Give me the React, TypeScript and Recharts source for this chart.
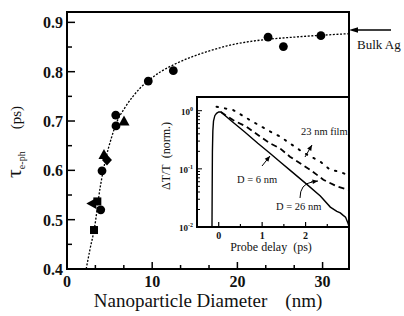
import React from "react";
import { ComposedChart, LineChart, Line, Scatter, XAxis, YAxis, ReferenceArea } from "recharts";

const FONT = "Liberation Serif";

// main panel: electron-phonon time vs particle diameter
const circleD = [3.96, 4.11, 5.75, 5.72, 9.54, 12.48, 23.6, 25.4, 29.8];
const circleTau = [0.52, 0.599, 0.69, 0.712, 0.781, 0.802, 0.87, 0.851, 0.873];
const squareD = [3.17, 3.56];
const squareTau = [0.479, 0.537];
const triUpD = [4.34, 6.69];
const triUpTau = [0.631, 0.699];
const triLeftD = [2.97];
const triLeftTau = [0.533];
const diamondD = [4.69];
const diamondTau = [0.621];

const fitD = [2.25, 2.7, 3.2, 3.9, 4.6, 5.2, 5.8, 6.8, 7.7, 8.6, 9.5, 11, 12.5, 14.8, 16.7, 18.7, 22.7, 26.6, 30, 33.1];
const fitTau = [0.4, 0.44, 0.481, 0.566, 0.627, 0.665, 0.696, 0.727, 0.749, 0.767, 0.781, 0.8, 0.814, 0.831, 0.842, 0.852, 0.864, 0.87, 0.874, 0.877];

const mainXTicks = [0, 3.33, 6.67, 10, 13.33, 16.67, 20, 23.33, 26.67, 30];
const mainXLabels = [0, 10, 20, 30];
const mainYTicks = [0.4, 0.45, 0.5, 0.55, 0.6, 0.65, 0.7, 0.75, 0.8, 0.85, 0.9];
const mainYLabels = [0.4, 0.5, 0.6, 0.7, 0.8, 0.9];

// inset: normalized transmission vs probe delay (log)
const d6T = [-0.155, -0.15, -0.145, -0.135, -0.12, -0.09, -0.05, 0.0, 0.05, 0.3, 0.6, 0.9, 1.18, 1.41, 1.64, 2.03, 2.34, 2.57, 2.72, 2.8, 2.86, 2.92, 2.97, 3.0];
const d6V = [0.01, 0.05, 0.2, 0.45, 0.66, 0.82, 0.9, 0.95, 0.95, 0.66, 0.43, 0.275, 0.186, 0.132, 0.095, 0.054, 0.034, 0.022, 0.0186, 0.0175, 0.016, 0.0148, 0.012, 0.0102];
const d26T = [0.05, 0.15, 0.33, 0.64, 0.95, 1.18, 1.41, 1.64, 2.11, 2.41, 2.72, 3.0];
const d26V = [0.95, 0.84, 0.69, 0.53, 0.36, 0.275, 0.226, 0.162, 0.096, 0.065, 0.05, 0.043];
const filmT = [-0.05, 0.33, 0.72, 1.18, 1.41, 1.95, 2.34, 2.57, 2.8, 3.0];
const filmV = [1.17, 1.03, 0.69, 0.44, 0.36, 0.19, 0.133, 0.096, 0.089, 0.076];

const insetXTicks = [0, 0.5, 1, 1.5, 2, 2.5];
const insetXLabels = [0, 1, 2];
const insetYTicks = [0.01, 0.02, 0.03, 0.04, 0.05, 0.06, 0.07, 0.08, 0.09, 0.1, 0.2, 0.3, 0.4, 0.5, 0.6, 0.7, 0.8, 0.9, 1];
const insetYLabels = [0.01, 0.1, 1];

const pts = (xs: number[], ys: number[]) => xs.map((x, i) => ({ x, y: ys[i] }));
const tv = (xs: number[], ys: number[]) => xs.map((t, i) => ({ t, v: ys[i] }));
const isIn = (v: number, list: number[]) => list.some((l) => Math.abs(l - v) < 1e-6);

const Dot = (p: any) => <circle cx={p.cx} cy={p.cy} r={4.4} fill="#000" />;
const Sq = (p: any) => <rect x={p.cx - 4} y={p.cy - 4} width={8} height={8} fill="#000" />;
const TriUp = (p: any) => (
  <polygon points={`${p.cx},${p.cy - 6} ${p.cx + 5.5},${p.cy + 4} ${p.cx - 5.5},${p.cy + 4}`} fill="#000" />
);
const TriLeft = (p: any) => (
  <polygon points={`${p.cx - 6},${p.cy} ${p.cx + 4},${p.cy - 5.5} ${p.cx + 4},${p.cy + 5.5}`} fill="#000" />
);
const Diam = (p: any) => (
  <polygon points={`${p.cx},${p.cy - 5.5} ${p.cx + 5},${p.cy} ${p.cx},${p.cy + 5.5} ${p.cx - 5},${p.cy}`} fill="#000" />
);

const MainYTick = ({ x, y, payload }: any) => {
  const major = isIn(payload.value, mainYLabels);
  return (
    <g>
      <line x1={x} x2={x + (major ? 8 : 5)} y1={y} y2={y} stroke="#000" strokeWidth={1.5} />
      {major && (
        <text x={x - 4} y={y + 6} textAnchor="end" fontSize={16} fontWeight="bold" fontFamily={FONT} fill="#111">
          {payload.value.toFixed(1)}
        </text>
      )}
    </g>
  );
};

const MainXTick = ({ x, y, payload }: any) => {
  const major = isIn(payload.value, mainXLabels);
  return (
    <g>
      <line x1={x} x2={x} y1={y} y2={y - (major ? 7 : 4)} stroke="#000" strokeWidth={1.5} />
      {major && (
        <text x={x} y={y + 18} textAnchor="middle" fontSize={16} fontWeight="bold" fontFamily={FONT} fill="#111">
          {payload.value}
        </text>
      )}
    </g>
  );
};

const InsetXTick = ({ x, y, payload }: any) => {
  const major = isIn(payload.value, insetXLabels);
  return (
    <g>
      <line x1={x} x2={x} y1={y} y2={y - (major ? 5 : 3)} stroke="#000" strokeWidth={1.2} />
      {major && (
        <text x={x} y={y + 12} textAnchor="middle" fontSize={10} fontWeight="bold" fontFamily={FONT} fill="#111">
          {payload.value}
        </text>
      )}
    </g>
  );
};

const InsetYTick = ({ x, y, payload }: any) => {
  const major = isIn(payload.value, insetYLabels);
  const exp = Math.round(Math.log10(payload.value));
  return (
    <g>
      <line x1={x} x2={x + (major ? 5 : 3)} y1={y} y2={y} stroke="#000" strokeWidth={1} />
      {major && (
        <text x={x - 4} y={y + 4} textAnchor="end" fontSize={9} fontWeight="bold" fontFamily={FONT} fill="#111">
          10<tspan fontSize={6} dy={-4}>{exp}</tspan>
        </text>
      )}
    </g>
  );
};

const Arrow = ({ x1, y1, x2, y2 }: any) => {
  const a = Math.atan2(y2 - y1, x2 - x1);
  const h = 6;
  const p = (d: number) => `${x2 - h * Math.cos(a + d)},${y2 - h * Math.sin(a + d)}`;
  return (
    <g>
      <line x1={x1} y1={y1} x2={x2} y2={y2} stroke="#000" strokeWidth={1} />
      <polygon points={`${x2},${y2} ${p(0.4)} ${p(-0.4)}`} fill="#000" />
    </g>
  );
};

export default function App() {
  return (
    <div style={{ position: "absolute", left: 0, top: 0, width: 404, height: 316, background: "#fff" }}>
      <div style={{ position: "absolute", left: 0, top: 0 }}>
        <ComposedChart width={404} height={316} margin={{ top: 12, right: 55, left: 0, bottom: 0 }}>
          <XAxis
            dataKey="x"
            type="number"
            domain={[0, 33.1]}
            ticks={mainXTicks}
            interval={0}
            height={47}
            axisLine={false}
            tickLine={false}
            tickSize={0}
            tickMargin={0}
            tick={(p: any) => <MainXTick {...p} />}
            allowDataOverflow
          />
          <YAxis
            dataKey="y"
            type="number"
            domain={[0.4, 0.921]}
            ticks={mainYTicks}
            interval={0}
            width={67}
            axisLine={false}
            tickLine={false}
            tickSize={0}
            tickMargin={0}
            tick={(p: any) => <MainYTick {...p} />}
            allowDataOverflow
          />
          <ReferenceArea x1={0} x2={33.1} y1={0.4} y2={0.921} fill="none" stroke="#000" strokeWidth={2} />
          <Line
            data={pts(fitD, fitTau)}
            dataKey="y"
            type="monotone"
            stroke="#000"
            strokeWidth={1.3}
            strokeDasharray="2 1.6"
            dot={false}
            isAnimationActive={false}
          />
          <Scatter data={pts(circleD, circleTau)} dataKey="y" shape={Dot} isAnimationActive={false} />
          <Scatter data={pts(squareD, squareTau)} dataKey="y" shape={Sq} isAnimationActive={false} />
          <Scatter data={pts(triUpD, triUpTau)} dataKey="y" shape={TriUp} isAnimationActive={false} />
          <Scatter data={pts(triLeftD, triLeftTau)} dataKey="y" shape={TriLeft} isAnimationActive={false} />
          <Scatter data={pts(diamondD, diamondTau)} dataKey="y" shape={Diam} isAnimationActive={false} />
        </ComposedChart>
      </div>

      <div style={{ position: "absolute", left: 150, top: 90 }}>
        <LineChart width={200} height={170} margin={{ top: 7, right: 1, left: 0, bottom: 0 }}>
          <XAxis
            dataKey="t"
            type="number"
            domain={[-0.5, 3]}
            ticks={insetXTicks}
            interval={0}
            height={33}
            axisLine={false}
            tickLine={false}
            tickSize={0}
            tickMargin={0}
            tick={(p: any) => <InsetXTick {...p} />}
            allowDataOverflow
          />
          <YAxis
            type="number"
            scale="log"
            domain={[0.01, 1.72]}
            ticks={insetYTicks}
            interval={0}
            width={47}
            axisLine={false}
            tickLine={false}
            tickSize={0}
            tickMargin={0}
            tick={(p: any) => <InsetYTick {...p} />}
            allowDataOverflow
          />
          <ReferenceArea x1={-0.5} x2={3} y1={0.01} y2={1.72} fill="none" stroke="#000" strokeWidth={2} />
          <Line data={tv(filmT, filmV)} dataKey="v" type="linear" stroke="#000" strokeWidth={2} strokeDasharray="1.5 7" strokeLinecap="round" dot={false} isAnimationActive={false} />
          <Line data={tv(d26T, d26V)} dataKey="v" type="linear" stroke="#000" strokeWidth={1.8} strokeDasharray="6 4" dot={false} isAnimationActive={false} />
          <Line data={tv(d6T, d6V)} dataKey="v" type="linear" stroke="#000" strokeWidth={1.4} dot={false} isAnimationActive={false} />
        </LineChart>
      </div>

      <svg width={404} height={316} style={{ position: "absolute", left: 0, top: 0, pointerEvents: "none" }} fontFamily={FONT} fill="#111">
        <text transform="translate(21,142) rotate(-90)" textAnchor="middle" fontFamily={FONT}>
          <tspan fontSize={22}>τ</tspan>
          <tspan fontSize={10} dy={4}>e-ph</tspan>
          <tspan fontSize={15} dy={-4} dx={22}>(ps)</tspan>
        </text>
        <text x={208} y={307} textAnchor="middle" fontSize={19} fontFamily={FONT}>
          Nanoparticle Diameter<tspan dx={18}>(nm)</tspan>
        </text>
        <text x={271} y={251} textAnchor="middle" fontSize={12} fontFamily={FONT}>
          Probe delay<tspan dx={6}>(ps)</tspan>
        </text>
        <text transform="translate(170,156) rotate(-90)" textAnchor="middle" fontSize={12} fontFamily={FONT}>
          ΔT/T<tspan dx={6}>(norm.)</tspan>
        </text>

        <line x1={356} y1={30} x2={391} y2={30} stroke="#000" strokeWidth={1.3} />
        <polygon points="349,30 358,27.2 358,32.8" fill="#000" />
        <text x={357} y={49} fontSize={13} fontFamily={FONT}>Bulk Ag</text>

        <text x={301} y={135} fontSize={10.5} fontFamily={FONT}>23 nm film</text>
        <Arrow x1={305} y1={157} x2={312} y2={145} />
        <text x={237} y={183} fontSize={10.5} fontFamily={FONT}>D = 6 nm</text>
        <Arrow x1={262} y1={166} x2={270} y2={156} />
        <text x={276} y={210} fontSize={10.5} fontFamily={FONT}>D = 26 nm</text>
        <path d="M300,198 Q300,184 312,182" stroke="#000" strokeWidth={1} fill="none" />
        <Arrow x1={311} y1={182} x2={318} y2={181} />
      </svg>
    </div>
  );
}
